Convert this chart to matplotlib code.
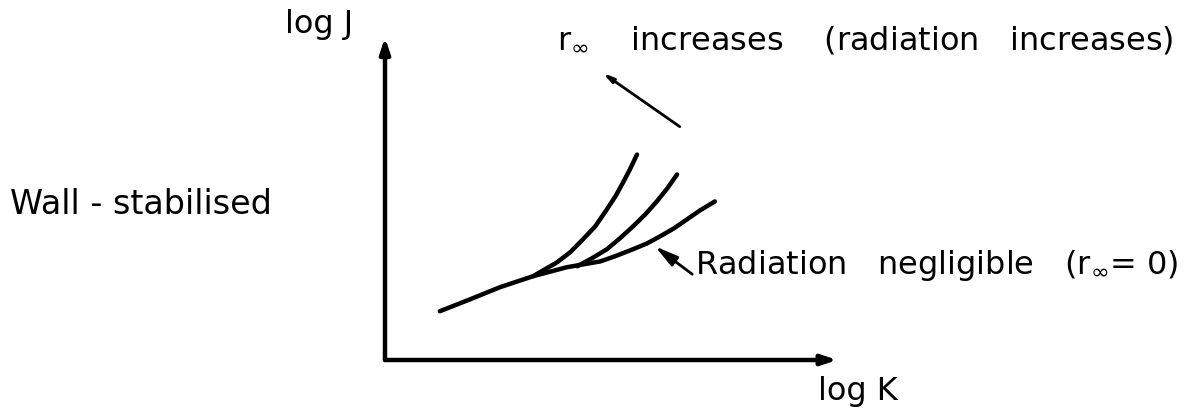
import numpy as np
import matplotlib
matplotlib.use('Agg')
import matplotlib.pyplot as plt

# schematic curves, arbitrary units of log K / log J
k_base = [1.22, 1.89, 2.56, 3.29, 4.04, 4.78, 5.11, 5.51, 5.82, 6.11, 6.42, 6.71, 7.00, 7.33]
j_base = [1.52, 1.89, 2.27, 2.61, 2.89, 3.07, 3.23, 3.45, 3.63, 3.85, 4.10, 4.38, 4.66, 4.94]

k_mid = [4.27, 4.60, 4.93, 5.22, 5.51, 5.78, 6.04, 6.27, 6.49]
j_mid = [2.92, 3.17, 3.45, 3.79, 4.16, 4.53, 4.94, 5.34, 5.78]

k_top = [3.29, 3.56, 3.82, 4.11, 4.40, 4.67, 4.93, 5.13, 5.29, 5.44, 5.60]
j_top = [2.61, 2.83, 3.04, 3.35, 3.76, 4.16, 4.69, 5.12, 5.53, 5.93, 6.40]

xlabel = 'log K'
ylabel = 'log J'
top_note = r'r$_{\infty}$    increases    (radiation   increases)'
low_note = r'Radiation   negligible   (r$_{\infty}$= 0)'
side_note = 'Wall - stabilised'

W, H = 1193, 412
fig = plt.figure(figsize=(W / 100, H / 100), dpi=100)
ax = fig.add_axes([385 / W, (H - 360) / H, 450 / W, 321 / H])
ax.set_xlim(0, 10)
ax.set_ylim(0, 10)
ax.axis('off')

lw = 3.2
for k, j in [(k_base, j_base), (k_mid, j_mid), (k_top, j_top)]:
    ax.plot(k, j, color='black', lw=lw, solid_capstyle='round', solid_joinstyle='round')

# axes drawn as arrows
axis_arrow = dict(arrowstyle='-|>,head_length=0.9,head_width=0.3', lw=3.2, color='black', shrinkA=0, shrinkB=0)
ax.annotate('', xy=(10.05, 0), xytext=(0, 0), annotation_clip=False, arrowprops=axis_arrow)
ax.annotate('', xy=(0, 10.05), xytext=(0, 0), annotation_clip=False, arrowprops=axis_arrow)

fs = 23
ax.text(-2.22, 10.45, ylabel, fontsize=fs, va='center', ha='left', clip_on=False)
ax.text(9.62, -0.98, xlabel, fontsize=fs, va='center', ha='left', clip_on=False)
ax.text(-8.33, 4.84, side_note, fontsize=fs + 1, va='center', ha='left', clip_on=False)
ax.text(3.82, 9.66, top_note, fontsize=fs, va='baseline', ha='left', clip_on=False)

# pointer arrows
pointer = dict(arrowstyle='-|>,head_length=0.6,head_width=0.15', lw=2, color='black', shrinkA=0, shrinkB=0)
ax.annotate('', xy=(4.84, 8.94), xytext=(6.55, 7.27), annotation_clip=False, arrowprops=pointer)
ax.annotate(low_note, xy=(6.0, 3.54), xytext=(6.89, 2.67), fontsize=fs, va='baseline', ha='left',
            annotation_clip=False, arrowprops=dict(pointer, relpos=(0, 0.2)))

fig.savefig('out.png', dpi=100, facecolor='white')
